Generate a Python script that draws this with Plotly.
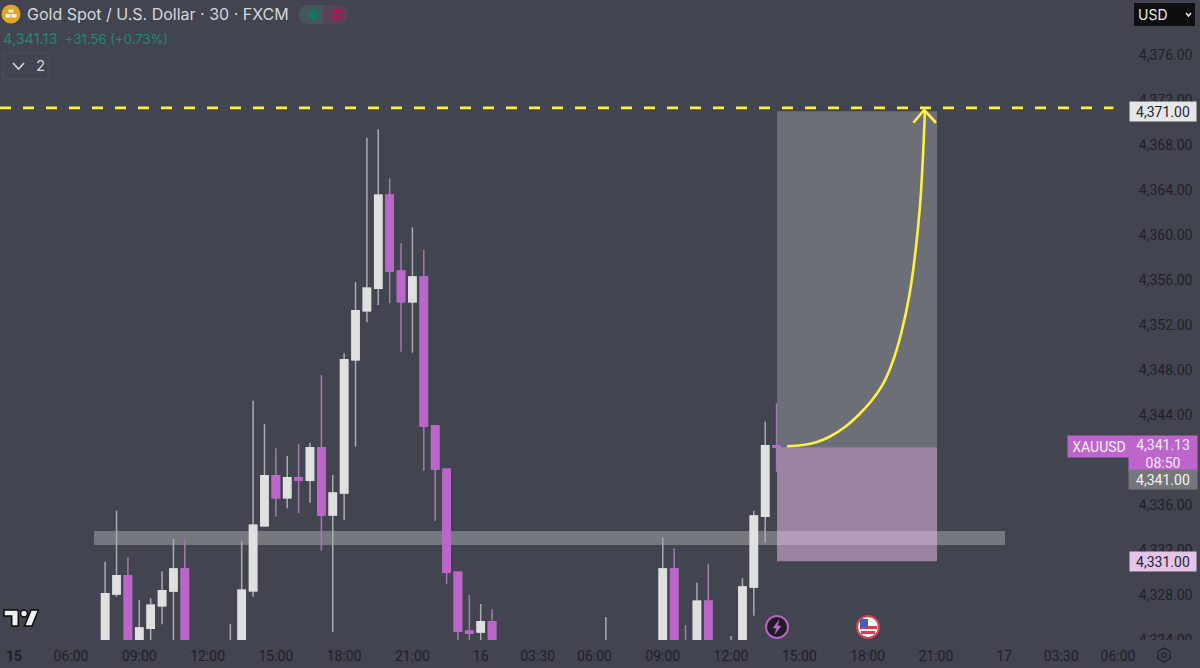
import plotly.graph_objects as go

# bars are numbered from the first 06:00 label, the chart skips the closed session hours
bar_index = [3, 4, 5, 6, 7, 8, 9, 10, 14, 15, 16, 17, 18, 19, 20, 21, 22, 23, 24, 25, 26, 27, 28, 29, 30, 31,
             32, 33, 34, 35, 36, 37, 47, 52, 53, 54, 55, 56, 58, 59, 60, 61, 62]
open_price = [4323.5, 4328.09, 4329.72, 4323.6, 4325.04, 4327.05, 4328.36, 4330.31, 4322.8, 4323.5, 4328.38,
              4334.16, 4338.60, 4336.65, 4338.43, 4338.20, 4341.09, 4335.11, 4337.07, 4348.92, 4353.27,
              4355.26, 4363.53, 4356.80, 4354.07, 4356.27, 4343.02, 4339.17, 4330.02, 4324.77, 4324.71,
              4325.63, 4322.8, 4323.5, 4330.31, 4323.6, 4323.4, 4327.44, 4322.5, 4323.5, 4328.71, 4335.00, 4341.27]
high_price = [4330.96, 4335.49, 4331.35, 4327.56, 4327.71, 4330.11, 4332.98, 4332.89, 4325.42, 4332.77, 4345.27,
              4343.17, 4341.04, 4340.36, 4341.40, 4341.54, 4347.56, 4338.67, 4349.49, 4355.80, 4368.65,
              4369.40, 4365.04, 4359.26, 4360.69, 4358.67, 4343.02, 4339.17, 4330.02, 4328.03, 4327.20,
              4326.73, 4326.04, 4333.09, 4332.15, 4325.31, 4329.09, 4330.78, 4324.36, 4329.48, 4335.49, 4343.40, 4345.04]
low_price = [4323.0, 4327.85, 4323.0, 4323.0, 4323.5, 4325.40, 4323.5, 4323.0, 4322.5, 4323.0, 4327.85,
             4334.16, 4334.96, 4335.71, 4335.26, 4336.20, 4331.93, 4324.71, 4334.67, 4341.18, 4352.24,
             4353.78, 4353.93, 4349.63, 4349.54, 4339.05, 4334.58, 4329.00, 4323.8, 4323.8, 4323.8,
             4323.8, 4322.5, 4323.0, 4323.0, 4323.0, 4323.0, 4323.0, 4322.5, 4323.0, 4326.16, 4332.65, 4338.96]
close_price = [4328.12, 4329.72, 4323.6, 4325.07, 4327.09, 4328.38, 4330.31, 4323.5, 4323.5, 4328.42, 4334.20,
               4338.60, 4336.65, 4338.43, 4338.20, 4341.09, 4335.11, 4337.07, 4348.92, 4353.27, 4355.26,
               4363.53, 4356.80, 4354.07, 4356.27, 4343.02, 4339.17, 4330.02, 4324.77, 4324.60, 4325.63,
               4323.9, 4323.5, 4330.31, 4323.5, 4323.2, 4327.44, 4323.4, 4323.5, 4328.71, 4335.02, 4341.27, 4341.13]

curve_bar = [62.92, 64.32, 65.55, 66.70, 68.01, 69.33, 70.39, 71.44, 72.32, 73.02, 73.64, 74.17, 74.61, 74.87, 75.04]
curve_price = [4341.22, 4341.33, 4341.60, 4342.09, 4342.93, 4344.13, 4345.33, 4346.93, 4349.07, 4351.56,
               4354.49, 4358.22, 4362.67, 4367.11, 4371.11]
arrow_bar = [74.02, 74.97, 76.01]
arrow_price = [4369.98, 4371.11, 4369.98]

price_ticks = [4324, 4328, 4332, 4336, 4344, 4348, 4352, 4356, 4360, 4364, 4368, 4372, 4376]
time_ticks = [-5, 0, 6, 12, 18, 24, 30, 36, 41, 46, 52, 58, 64, 70, 76, 82, 87, 92]
time_labels = ["<b>15</b>", "06:00", "09:00", "12:00", "15:00", "18:00", "21:00", "16", "03:30", "06:00",
               "09:00", "12:00", "15:00", "18:00", "21:00", "17", "03:30", "06:00"]

target_price = 4371.0
entry_price = 4341.13
stop_price = 4331.0
dashed_price = 4371.3
band_prices = [4332.44, 4333.69]
band_bars = [2.02, 82.07]
box_bars = [62.04, 76.1]
dashed_bars = [-6.24, 91.6]

BG = "#42444F"
UP = "#E0E0E0"
DOWN = "#BC66CC"
AXIS_TEXT = "#1F2129"
YELLOW = "#FFEF45"
FONT = "Inter"
AXIS_FONT = "Roboto"

PLOT_W = 1128
PLOT_H = 640


def px(x):
    return x / PLOT_W


def py(y):
    return 1 - y / PLOT_H


def poly(points, **kw):
    path = "M" + " L".join(f"{px(x)},{py(y)}" for x, y in points) + " Z"
    return dict(type="path", xref="paper", yref="paper", path=path, layer="above", **kw)


def line_path(points, color, width):
    path = "M" + " L".join(f"{px(x)},{py(y)}" for x, y in points)
    return dict(type="path", xref="paper", yref="paper", path=path, layer="above", line=dict(color=color, width=width))


def circle(cx, cy, r, fill, line_color=None, line_width=0):
    return dict(type="circle", xref="paper", yref="paper", layer="above",
                x0=px(cx - r), x1=px(cx + r), y0=py(cy + r), y1=py(cy - r), fillcolor=fill,
                line=dict(color=line_color or fill, width=line_width))


def box(x0, y0, x1, y1, fill, line_color=None, line_width=0):
    return dict(type="rect", xref="paper", yref="paper", layer="above",
                x0=px(x0), x1=px(x1), y0=py(y1), y1=py(y0), fillcolor=fill,
                line=dict(color=line_color or fill, width=line_width))


def label(x, y, text, size, color, anchor="left"):
    return dict(xref="paper", yref="paper", x=px(x), y=py(y), text=text, showarrow=False, xanchor=anchor,
                yanchor="middle", font=dict(family=FONT, size=size, color=color))


def price_tag(price, text, bg, color, height=19):
    return dict(xref="paper", yref="y", x=px(1163), y=price, text=text, showarrow=False, xanchor="center",
                yanchor="middle", width=66, height=height, bgcolor=bg, borderpad=0,
                font=dict(family=AXIS_FONT, size=14, color=color))


fig = go.Figure()

# first trace carries the wicks, second one repaints the bodies in the solid colour
fig.add_trace(go.Candlestick(
    x=bar_index, open=open_price, high=high_price, low=low_price, close=close_price,
    increasing=dict(line=dict(color="#ABACB1", width=1.5), fillcolor=UP),
    decreasing=dict(line=dict(color="#A27BB0", width=1.5), fillcolor=DOWN),
    whiskerwidth=0, hoverinfo="skip",
))
body_high = [max(o, c) for o, c in zip(open_price, close_price)]
body_low = [min(o, c) for o, c in zip(open_price, close_price)]
fig.add_trace(go.Candlestick(
    x=bar_index, open=open_price, high=body_high, low=body_low, close=close_price,
    increasing=dict(line=dict(color=UP, width=1.5), fillcolor=UP),
    decreasing=dict(line=dict(color=DOWN, width=1.5), fillcolor=DOWN),
    whiskerwidth=0, hoverinfo="skip",
))
fig.add_trace(go.Scatter(x=curve_bar, y=curve_price, mode="lines", line=dict(color=YELLOW, width=2.6, shape="spline"),
                         hoverinfo="skip"))
fig.add_trace(go.Scatter(x=arrow_bar, y=arrow_price, mode="lines", line=dict(color=YELLOW, width=2.6),
                         hoverinfo="skip"))
fig.add_trace(go.Scatter(x=dashed_bars, y=[dashed_price, dashed_price], mode="lines",
                         line=dict(color=YELLOW, width=2.6, dash="11px,12px"), hoverinfo="skip"))

shapes = [
    dict(type="rect", x0=band_bars[0], x1=band_bars[1], y0=band_prices[0], y1=band_prices[1], layer="below",
         fillcolor="rgba(255,255,255,0.28)", line_width=0),
    dict(type="rect", x0=box_bars[0], x1=box_bars[1], y0=entry_price, y1=target_price, layer="below",
         fillcolor="rgba(255,255,255,0.23)", line_width=0),
    dict(type="rect", x0=box_bars[0], x1=box_bars[1], y0=stop_price, y1=entry_price, layer="below",
         fillcolor="rgba(227,185,231,0.55)", line_width=0),
    # hides the lower half of the bottom price label
    box(1136, 640, 1200, 668, BG),
    # header logo
    circle(11, 14, 9.5, "#E0A526"),
    box(8.5, 9.5, 13.5, 12.5, "#F6F0DC"),
    box(5.5, 14, 10.5, 17.5, "#F6F0DC"),
    box(11.5, 14, 16.5, 17.5, "#F6F0DC"),
    # status pill
    circle(308, 14.5, 9.5, "#44585A"),
    circle(339, 14.5, 9.5, "#5A4358"),
    box(308, 5, 323.5, 24, "#44585A"),
    box(323.5, 5, 339, 24, "#5A4358"),
    circle(313, 14.5, 4.5, "#0F7A62"),
    circle(337, 14.5, 6, "#A01D55"),
    box(331, 13.6, 343, 15.2, "#5A4358"),
    # collapse button
    box(3, 53, 48, 79, "rgba(0,0,0,0)", "#4C4E59", 1),
    line_path([(13, 63), (18.5, 69), (24, 63)], "#D5D6DA", 1.6),
    # currency button
    box(1134, 3, 1195, 26, "#0E0E10"),
    line_path([(1186, 13), (1188.5, 16), (1191, 13)], "#E8E8E8", 1.5),
    # tradingview logo
    poly([(4, 610), (18.3, 610), (18.3, 626), (11.7, 626), (11.7, 616), (4, 616)],
         fillcolor="#F0F0F0", line=dict(color="#0B0B0B", width=1.5)),
    circle(24, 613.5, 3.4, "#F0F0F0", "#0B0B0B", 1.5),
    poly([(31, 610), (38.5, 610), (32, 626), (24.5, 626)], fillcolor="#F0F0F0", line=dict(color="#0B0B0B", width=1.5)),
    # event icons
    circle(777, 627, 11, "#1E1A26", "#B765C6", 2),
    poly([(779, 620), (773, 628), (776.5, 628), (775, 634), (781, 626), (777.5, 626)], fillcolor="#B765C6",
         line=dict(color="#B765C6", width=0.5)),
    circle(868, 627, 11, "#F4F4F4", "#D9404F", 2),
    box(860, 626, 877, 629, "#D9404F"),
    box(861, 631, 875, 634, "#D9404F"),
    box(860, 619, 868, 627, "#3C63B8"),
    # gear icon
    poly([(1164, 648), (1170, 651.5), (1170, 658.5), (1164, 662), (1158, 658.5), (1158, 651.5)],
         fillcolor="rgba(0,0,0,0)", line=dict(color="#1F2129", width=1.2)),
    circle(1164, 655, 2.4, "rgba(0,0,0,0)", "#1F2129", 1.2),
]

annotations = [
    label(25, 14, "Gold Spot / U.S. Dollar · 30 · FXCM", 16, "#D6D7DB"),
    label(1, 38.5, "4,341.13", 14.5, "#1F8A72"),
    label(63, 38.5, "+31.56 (+0.73%)", 13.1, "#1F8A72"),
    label(34, 65.5, "2", 15, "#D5D6DA"),
    label(1136, 14.5, "USD", 14, "#E8E8E8"),
    price_tag(target_price, "4,371.00", "#E6E6E8", "#23252E"),
    price_tag(stop_price, "4,331.00", "#E5C4EC", "#23252E"),
    dict(xref="paper", yref="paper", x=px(1163), y=py(454), text="4,341.13<br>08:50", showarrow=False,
         xanchor="center", yanchor="middle", width=66, height=34, bgcolor=DOWN, align="center",
         font=dict(family=AXIS_FONT, size=14, color="#F4E8F6")),
    dict(xref="paper", yref="paper", x=px(1163), y=py(479.5), text="4,341.00", showarrow=False,
         xanchor="center", yanchor="middle", width=66, height=17, bgcolor="#75777D",
         font=dict(family=AXIS_FONT, size=14, color="#F2F2F2")),
    dict(xref="paper", yref="paper", x=px(1099), y=py(446.5), text="XAUUSD", showarrow=False,
         xanchor="center", yanchor="middle", width=60, height=19, bgcolor=DOWN,
         font=dict(family=AXIS_FONT, size=14, color="#F6EEF8")),
]

fig.update_layout(
    width=1200,
    height=668,
    margin=dict(l=0, r=72, t=0, b=28, pad=0),
    paper_bgcolor=BG,
    plot_bgcolor=BG,
    showlegend=False,
    boxgap=0.1,
    shapes=shapes,
    annotations=annotations,
    xaxis=dict(
        range=[-6.24, 92.88], rangeslider=dict(visible=False), showgrid=False, zeroline=False, showline=False,
        tickmode="array", tickvals=time_ticks, ticktext=time_labels, ticks="outside", ticklen=3, tickcolor=BG,
        tickfont=dict(family=AXIS_FONT, size=14, color=AXIS_TEXT),
    ),
    yaxis=dict(
        range=[4324, 4380.89], side="right", showgrid=False, zeroline=False, showline=False,
        tickmode="array", tickvals=price_ticks, tickformat=",.2f", ticks="outside", ticklen=7, tickcolor=BG,
        tickfont=dict(family=AXIS_FONT, size=14, color=AXIS_TEXT),
    ),
)

fig.write_html("out.html", config=dict(displayModeBar=False),
               post_script="document.body.style.margin='0';document.body.style.overflow='hidden';")
